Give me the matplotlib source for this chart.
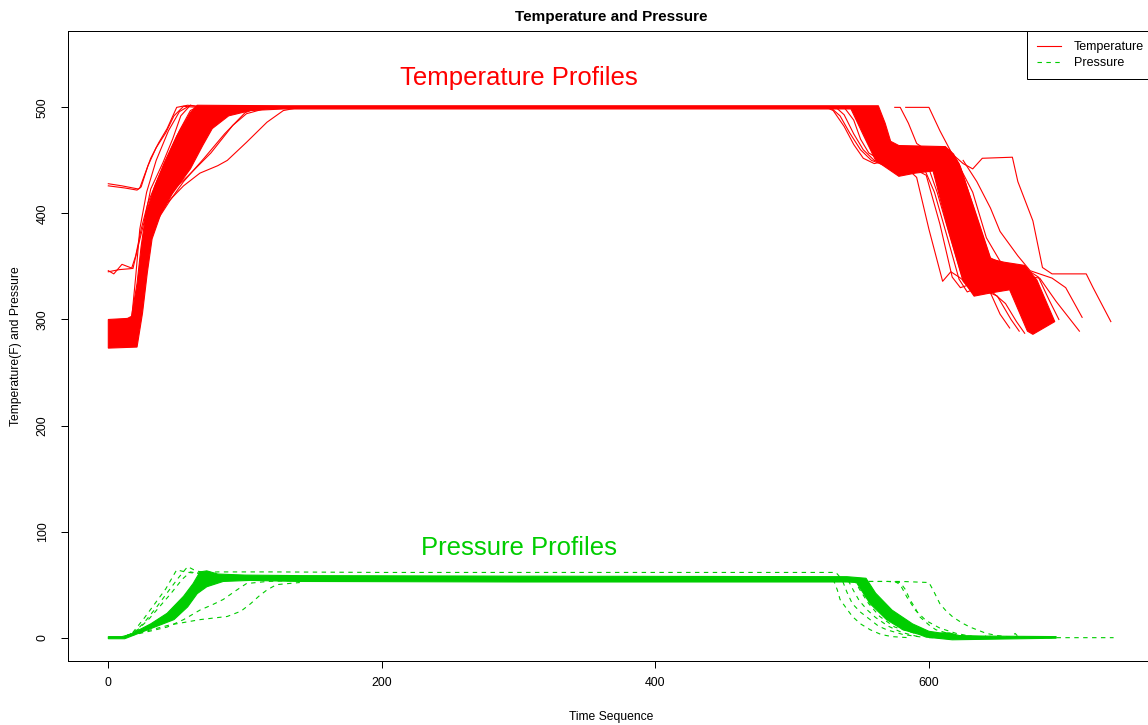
import matplotlib
matplotlib.use("Agg")
import matplotlib.pyplot as plt
from matplotlib.lines import Line2D

plt.rcParams['font.family'] = ['Liberation Sans', 'DejaVu Sans']

RED = '#FF0000'
GREEN = '#00CD00'
LW = 0.8
DASH = (0, (4, 4))

x_ticks = [0, 200, 400, 600]
y_ticks = [0, 100, 200, 300, 400, 500]

# outline of the dense bundle of temperature profiles
# (upper path left->right, then lower path right->left)
temp_band_top_x = [0, 14, 17, 21, 24, 27.5, 34, 41, 50, 60, 65, 128, 563, 568, 572, 578,
                   612, 618, 623, 634, 645, 655, 670, 679, 692]
temp_band_top_y = [300, 301, 303, 334, 369, 400, 426, 448, 473, 495, 502, 501.5, 501.5, 485, 468, 464,
                   463, 456, 444, 400, 357, 354, 351, 337, 298]
temp_band_bot_x = [676, 672, 659, 645, 633, 625, 613, 603, 590, 578, 561, 552, 543, 128,
                   104, 88, 76, 69, 60, 47, 38.5, 32, 28.5, 25, 21, 0]
temp_band_bot_y = [286, 289, 328, 325, 322, 337, 390, 440, 438, 435, 450, 474, 498.5, 498.5,
                   497, 492, 480, 464, 442, 419, 400, 376, 344, 306, 274, 273]

# outline of the dense bundle of pressure profiles
press_band_top_x = [0, 10, 16, 31, 43, 55, 62, 67, 72, 80, 100, 140, 300, 540, 554, 561, 573,
                    588, 600, 608, 615, 622, 640, 693]
press_band_top_y = [1, 1, 3, 13, 23, 39, 51, 62, 63, 60, 59, 58.5, 58, 57.5, 56, 42, 26,
                    13, 6, 4.5, 4.5, 2, 1.5, 1]
press_band_bot_x = [693, 617, 598, 593, 581, 569, 557, 547, 540, 300, 140, 104, 84, 72, 65,
                    58, 48, 31, 16, 12, 0]
press_band_bot_y = [-0.5, -2, 0.5, 3, 7.5, 17, 32, 52, 52.5, 52.5, 53, 54, 53, 48, 41.5,
                    29, 17, 8.5, 1, -1, -1]

# individual temperature profiles that leave the bundle
temp_start_428 = ([0, 10, 22, 23, 27, 31, 37, 43, 50, 58, 70],
                  [428, 426, 423, 424, 438, 452, 467, 480, 500, 502, 500])
temp_start_426 = ([0, 12, 21, 24, 29, 35, 42, 48, 55, 65],
                  [426, 424, 422, 425, 445, 462, 476, 492, 501, 500])
temp_start_346 = ([0, 4, 10, 18, 22, 26, 31, 40, 47, 53, 60, 70],
                  [346, 343, 352, 348, 370, 391, 423, 448, 470, 492, 502, 500])
temp_start_345 = ([0, 8, 17, 20, 24, 29, 36, 44, 52, 60, 66],
                  [345, 347, 348, 360, 385, 410, 432, 455, 478, 497, 501])
temp_fast_a = ([17, 20, 23, 28, 35, 44, 52, 60],
               [300, 340, 385, 420, 450, 478, 496, 502])
temp_slow_a = ([36, 43, 55, 67, 80, 87, 101, 116, 128, 140],
               [395, 410, 426, 438, 445, 450, 467, 486, 497, 500])
temp_slow_b = ([36, 43, 58, 75, 91, 101, 115],
               [398, 417, 435, 457, 483, 494, 499])
temp_slow_c = ([35, 45, 55, 70, 85, 100, 110],
               [392, 412, 430, 452, 475, 495, 500])
temp_cool_a = ([525, 530, 538, 545, 552, 560, 570],
               [500, 497, 482, 465, 452, 447, 450])
temp_cool_b = ([532, 538, 545, 552, 560, 568, 578],
               [500, 493, 475, 460, 450, 446, 448])
temp_cool_c = ([538, 545, 550, 556, 565, 575],
               [500, 488, 470, 457, 450, 452])
temp_cool_l = ([528, 535, 542, 550, 558, 570, 585],
               [500, 492, 476, 460, 450, 444, 441])
temp_cool_d = ([575, 579, 585, 591, 600, 612, 622, 634, 645, 655, 665],
               [500, 500, 485, 466, 458, 457, 440, 395, 352, 350, 350])
temp_cool_e = ([583, 600, 608, 617, 625, 632, 639, 661, 665, 676, 683, 690, 715, 720, 733],
               [500, 500, 478, 456, 447, 442, 452, 453, 430, 393, 349, 343, 343, 330, 298])
temp_cool_f = ([612, 620, 632, 642, 652, 660, 681, 693, 710],
               [457, 450, 420, 377, 355, 343, 339, 317, 289])
temp_cool_g = ([625, 635, 645, 652, 665, 674, 690, 700, 712],
               [450, 430, 405, 383, 360, 346, 339, 330, 302])
temp_cool_m = ([615, 622, 633, 645, 655, 668, 680, 688, 695],
               [460, 447, 405, 358, 352, 350, 340, 318, 300])
temp_cool_h = ([586, 591, 600, 610, 616, 622, 632, 645, 652, 659],
               [440, 434, 385, 336, 345, 340, 330, 325, 305, 292])
temp_cool_i = ([592, 598, 608, 617, 623, 630, 640, 650, 660, 666],
               [440, 436, 390, 340, 330, 333, 328, 322, 300, 289])
temp_cool_j = ([597, 604, 614, 622, 628, 636, 647, 656, 664, 670],
               [441, 420, 375, 338, 326, 330, 325, 315, 298, 287])
temp_cool_n = ([600, 606, 615, 625, 633],
               [442, 420, 380, 336, 324])
temp_cool_k = ([610, 618, 630, 641, 650],
               [458, 448, 400, 352, 350])

# individual pressure profiles that leave the bundle
press_fast_a = ([12, 18, 26, 34, 42, 50, 56, 62, 72], [1, 5, 18, 32, 46, 64, 62, 61, 60])
press_fast_b = ([12, 20, 28, 36, 44, 51, 58, 64, 72], [1, 6, 17, 30, 44, 56, 67, 63, 61])
press_fast_c = ([14, 22, 30, 38, 46, 54, 60, 68], [2, 8, 18, 30, 42, 55, 62, 60])
press_slow_a = ([16, 30, 43, 55, 67, 76, 84, 94, 101, 116, 140],
                [2, 6, 10, 17, 26, 31, 36, 45, 51, 53, 54])
press_slow_b = ([16, 30, 45, 67, 87, 97, 104, 110, 116, 123, 140],
                [2, 7, 12, 17, 20, 25, 32, 39, 45, 50, 52])
press_high = ([65, 80, 120, 200, 300, 400, 500, 532, 535],
              [61, 62, 62, 61.5, 61.5, 61.5, 61.5, 61.5, 57])
press_cool_a = ([530, 533, 535, 540, 544, 550, 557, 565, 573, 585],
                [55, 45, 36, 27, 20, 13, 7.5, 3, 1, 0])
press_cool_b = ([537, 540, 544, 550, 557, 563, 569, 581, 595],
                [53, 43, 32, 24, 17, 11, 7.5, 3, 0.5])
press_cool_c = ([541, 545, 549, 555, 561, 570, 580, 592],
                [54, 44, 35, 26, 19, 11, 5, 1])
press_cool_g = ([545, 550, 556, 564, 575, 590, 610],
                [55, 44, 32, 20, 10, 4, 1])
press_cool_d = ([556, 570, 579, 583, 586, 590, 593, 600, 605, 614, 622, 640],
                [53, 53, 52, 45, 36, 28, 20, 12, 7.5, 4, 2, 0.5])
press_cool_e = ([556, 580, 600, 603, 608, 612, 617, 624, 630, 636, 642, 650, 657, 670],
                [53, 53, 52, 45, 32, 26, 20, 14, 10, 7, 4, 2, 1, 0.5])
press_cool_f = ([575, 579, 584, 590, 598, 608, 620, 632], [53, 50, 38, 26, 16, 9, 4, 1])
press_tail = ([600, 640, 643, 646, 660, 663, 666, 700, 735], [0, 0, 3, 0, 0, 4, 0, 0, 0])

temp_curves = [temp_start_428, temp_start_426, temp_start_346, temp_start_345, temp_fast_a,
               temp_slow_a, temp_slow_b, temp_slow_c, temp_cool_a, temp_cool_b, temp_cool_c,
               temp_cool_l, temp_cool_d, temp_cool_e, temp_cool_f, temp_cool_g, temp_cool_m,
               temp_cool_h, temp_cool_i, temp_cool_j, temp_cool_n, temp_cool_k]
press_curves = [press_fast_a, press_fast_b, press_fast_c, press_slow_a, press_slow_b,
                press_high, press_cool_a, press_cool_b, press_cool_c, press_cool_g,
                press_cool_d, press_cool_e, press_cool_f, press_tail]

fig = plt.figure(figsize=(11.48, 7.25), dpi=100)
ax = fig.add_axes([68.1 / 1148, 1 - 661 / 725, (1153.8 - 68.1) / 1148, 630 / 725])

ax.fill(temp_band_top_x + temp_band_bot_x, temp_band_top_y + temp_band_bot_y,
        color=RED, lw=LW)
for cx, cy in temp_curves:
    ax.plot(cx, cy, color=RED, lw=LW)

ax.fill(press_band_top_x + press_band_bot_x, press_band_top_y + press_band_bot_y,
        color=GREEN, lw=LW)
for cx, cy in press_curves:
    ax.plot(cx, cy, color=GREEN, lw=LW, linestyle=DASH)

ax.text(300, 521, 'Temperature Profiles', color=RED, fontsize=18.5, ha='center', va='baseline')
ax.text(300, 77.5, 'Pressure Profiles', color=GREEN, fontsize=18.5, ha='center', va='baseline')

ax.set_xlim(-29.4, 764.4)
ax.set_ylim(-22, 572)
ax.set_xticks(x_ticks)
ax.set_yticks(y_ticks)
ax.tick_params(length=5, width=0.72, labelsize=8.9, direction='out')
ax.tick_params(axis='x', pad=6.5)
ax.tick_params(axis='y', pad=9)
for lab in ax.get_yticklabels():
    lab.set_rotation(90)
    lab.set_va('center')
for sp in ax.spines.values():
    sp.set_linewidth(0.72)

fig.text(611 / 1148, 1 - 17 / 725, 'Temperature and Pressure', fontsize=11,
         fontweight='bold', ha='center', va='center')
fig.text(611 / 1148, 1 - 717 / 725, 'Time Sequence', fontsize=8.7, ha='center', va='center')
fig.text(16 / 1148, 1 - 346 / 725, 'Temperature(F) and Pressure', fontsize=8.7,
         rotation=90, ha='center', va='center')

handles = [Line2D([], [], color=RED, lw=LW),
           Line2D([], [], color=GREEN, lw=LW, linestyle=DASH)]
leg = ax.legend(handles, ['Temperature', 'Pressure'], loc='upper right', borderaxespad=0,
                fontsize=9, handlelength=1.9, handletextpad=1.0, labelspacing=0.35,
                borderpad=0.8, fancybox=False, framealpha=1, edgecolor='black')
leg.get_frame().set_linewidth(0.72)

fig.savefig('out.png', dpi=100)
